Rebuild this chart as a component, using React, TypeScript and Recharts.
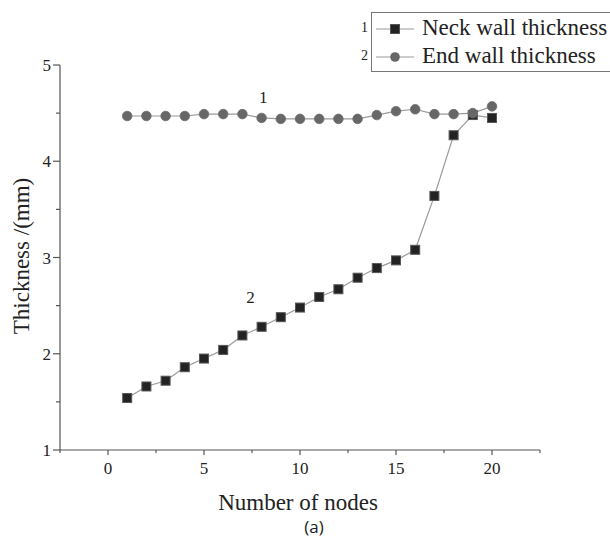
import { LineChart, Line, XAxis, YAxis, ReferenceDot } from 'recharts';

const SERIF = '"Liberation Serif", "Times New Roman", serif';
const INK = '#222';
const AXIS = '#555';
const LINE = '#9a9a9a';

const nodes = [1, 2, 3, 4, 5, 6, 7, 8, 9, 10, 11, 12, 13, 14, 15, 16, 17, 18, 19, 20];
const neckWall = [1.54, 1.66, 1.72, 1.86, 1.95, 2.04, 2.19, 2.28, 2.38, 2.48, 2.59, 2.67, 2.79, 2.89, 2.97, 3.08, 3.64, 4.27, 4.48, 4.45];
const endWall = [4.47, 4.47, 4.47, 4.47, 4.49, 4.49, 4.49, 4.45, 4.44, 4.44, 4.44, 4.44, 4.44, 4.48, 4.52, 4.54, 4.49, 4.49, 4.5, 4.57];

const xTicks = [-2.5, 0, 2.5, 5, 7.5, 10, 12.5, 15, 17.5, 20, 22.5];
const xLabels = [0, 5, 10, 15, 20];
const yTicks = [1, 1.5, 2, 2.5, 3, 3.5, 4, 4.5, 5];
const yLabels = [1, 2, 3, 4, 5];

const data = nodes.map((n, i) => ({ n, neck: neckWall[i], end: endWall[i] }));

const Square = (p: any) =>
  p.cx == null ? null : (
    <rect key={p.index} x={p.cx - 4.5} y={p.cy - 4.5} width={9} height={9} fill="#232323" stroke="#555" strokeWidth={1} />
  );

const Circle = (p: any) =>
  p.cx == null ? null : <circle key={p.index} cx={p.cx} cy={p.cy} r={4.8} fill="#676767" stroke="#6e6e6e" strokeWidth={0.8} />;

const XTick = ({ x, y, payload }: any) => {
  const major = xLabels.includes(payload.value);
  return (
    <g>
      <line x1={x} x2={x} y1={y} y2={y + (major ? 5 : 3)} stroke={AXIS} strokeWidth={1.2} />
      {major && (
        <text x={x} y={y + 24} textAnchor="middle" fontSize={17} fontFamily={SERIF} fill={INK}>
          {payload.value}
        </text>
      )}
    </g>
  );
};

const YTick = ({ x, y, payload }: any) => {
  const major = yLabels.includes(payload.value);
  return (
    <g>
      <line x1={x} x2={x - (major ? 7 : 4)} y1={y} y2={y} stroke={AXIS} strokeWidth={1.2} />
      {major && (
        <text x={x - 9} y={y + 6} textAnchor="end" fontSize={17} fontFamily={SERIF} fill={INK}>
          {payload.value}
        </text>
      )}
    </g>
  );
};

function LegendRow({ num, label, marker, top }: { num: string; label: string; marker: 'square' | 'circle'; top: number }) {
  return (
    <div style={{ position: 'absolute', left: 0, top, height: 24, width: 300 }}>
      <span style={{ position: 'absolute', left: -10, top: 3, fontSize: 14, fontFamily: SERIF, color: INK }}>{num}</span>
      <svg style={{ position: 'absolute', left: 3, top: 0 }} width={40} height={24}>
        <line x1={2} x2={40} y1={12} y2={12} stroke={LINE} strokeWidth={1.2} />
        {marker === 'square' ? (
          <rect x={16.5} y={7.5} width={9} height={9} fill="#232323" stroke="#555" />
        ) : (
          <circle cx={21} cy={12} r={4.8} fill="#676767" />
        )}
      </svg>
      <span style={{ position: 'absolute', left: 51, top: -2, fontSize: 23, fontFamily: SERIF, color: INK, whiteSpace: 'nowrap' }}>
        {label}
      </span>
    </div>
  );
}

export default function App() {
  return (
    <div style={{ position: 'absolute', left: 0, top: 0, width: 610, height: 539, overflow: 'hidden', background: '#fff' }}>
      <LineChart width={610} height={539} data={data} margin={{ top: 65, right: 70, bottom: 0, left: 0 }}>
        <XAxis
          dataKey="n"
          type="number"
          domain={[-2.5, 22.5]}
          ticks={xTicks}
          interval={0}
          height={89}
          tickSize={0}
          tickMargin={0}
          tickLine={false}
          tick={<XTick />}
          axisLine={{ stroke: AXIS, strokeWidth: 1.2 }}
        />
        <YAxis
          type="number"
          domain={[1, 5]}
          ticks={yTicks}
          interval={0}
          width={60}
          tickSize={0}
          tickMargin={0}
          tickLine={false}
          tick={<YTick />}
          axisLine={{ stroke: AXIS, strokeWidth: 1.2 }}
        />
        <Line dataKey="neck" stroke={LINE} strokeWidth={1.2} dot={Square} activeDot={false} isAnimationActive={false} />
        <Line dataKey="end" stroke={LINE} strokeWidth={1.2} dot={Circle} activeDot={false} isAnimationActive={false} />
        <ReferenceDot x={8.09} y={4.67} r={0} fill="none" stroke="none"
          label={{ value: '1', position: 'center', fontSize: 17, fontFamily: SERIF, fill: INK }} />
        <ReferenceDot x={7.42} y={2.59} r={0} fill="none" stroke="none"
          label={{ value: '2', position: 'center', fontSize: 17, fontFamily: SERIF, fill: INK }} />
      </LineChart>

      <div style={{ position: 'absolute', left: 198, top: 490, width: 200, textAlign: 'center', fontSize: 23, fontFamily: SERIF, color: INK, whiteSpace: 'nowrap' }}>
        Number of nodes
      </div>
      <div style={{ position: 'absolute', left: 264, top: 515, width: 100, textAlign: 'center', fontSize: 17, fontFamily: '"Open Sans", "Noto Sans", sans-serif', color: INK }}>
        (a)
      </div>
      <div style={{ position: 'absolute', left: 22, top: 257, width: 0, height: 0 }}>
        <div style={{ position: 'absolute', left: -110, top: -14, width: 220, textAlign: 'center', transform: 'rotate(-90deg)', fontSize: 23, fontFamily: SERIF, color: INK, whiteSpace: 'nowrap' }}>
          Thickness /(mm)
        </div>
      </div>

      <div style={{ position: 'absolute', left: 371, top: 12, width: 300, height: 60, border: '1px solid #777', boxSizing: 'border-box' }} />
      <div style={{ position: 'absolute', left: 371, top: 12 }}>
        <LegendRow num="1" label="Neck wall thickness" marker="square" top={5} />
        <LegendRow num="2" label="End wall thickness" marker="circle" top={33} />
      </div>
    </div>
  );
}
